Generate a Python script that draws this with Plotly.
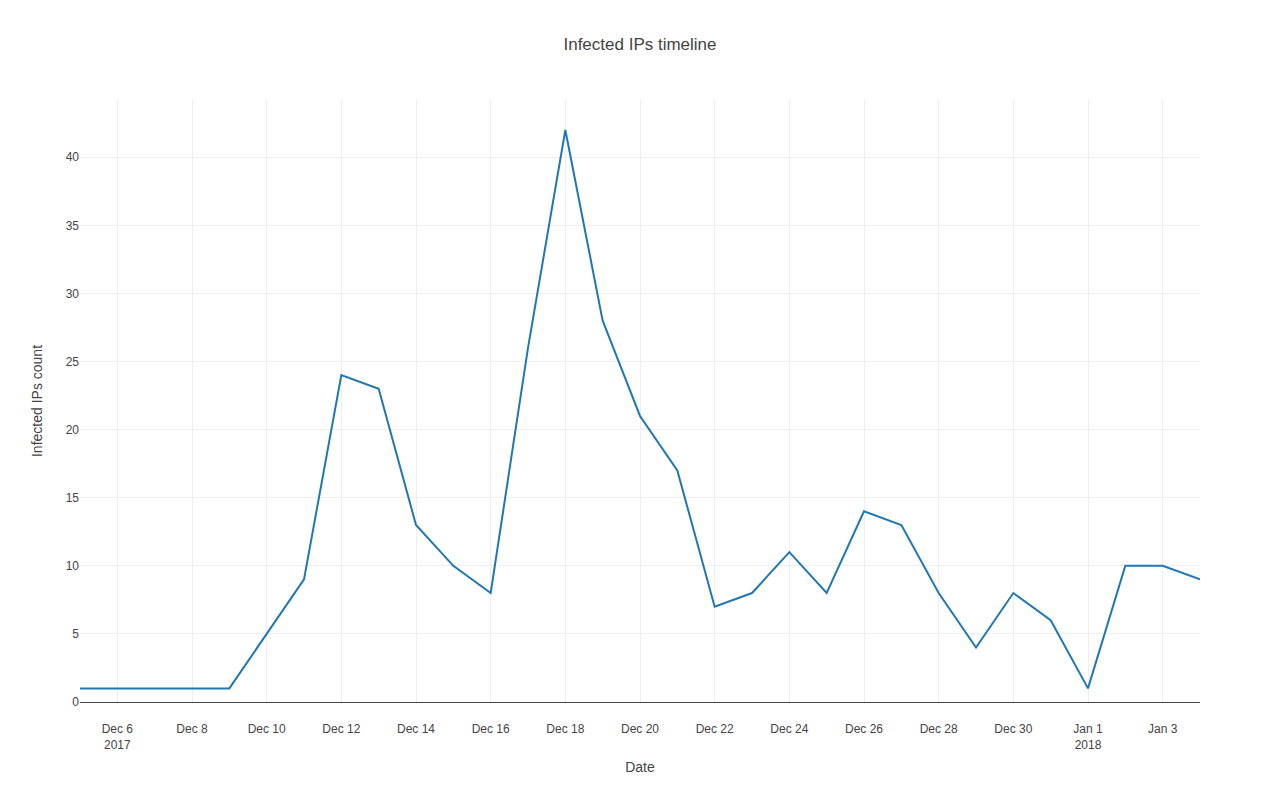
import plotly.graph_objects as go

dates = ["2017-12-05", "2017-12-06", "2017-12-07", "2017-12-08", "2017-12-09",
         "2017-12-10", "2017-12-11", "2017-12-12", "2017-12-13", "2017-12-14",
         "2017-12-15", "2017-12-16", "2017-12-17", "2017-12-18", "2017-12-19",
         "2017-12-20", "2017-12-21", "2017-12-22", "2017-12-23", "2017-12-24",
         "2017-12-25", "2017-12-26", "2017-12-27", "2017-12-28", "2017-12-29",
         "2017-12-30", "2017-12-31", "2018-01-01", "2018-01-02", "2018-01-03",
         "2018-01-04"]
counts = [1, 1, 1, 1, 1, 5, 9, 24, 23, 13, 10, 8, 26, 42, 28, 21, 17, 7, 8, 11,
          8, 14, 13, 8, 4, 8, 6, 1, 10, 10, 9]

fig = go.Figure(go.Scatter(x=dates, y=counts, mode="lines",
                           line=dict(color="#1f77b4", width=2)))

fig.update_layout(
    template="none",
    width=1264, height=784,
    margin=dict(l=72, r=72, t=92, b=90),
    font=dict(family="Arial, Liberation Sans, sans-serif", size=12, color="#444"),
    title=dict(text="Infected IPs timeline", x=0.5, xanchor="center",
               y=0.954, yanchor="middle", yref="container",
               font=dict(size=17)),
    xaxis=dict(title=dict(text="Date", standoff=11), gridcolor="#eee",
               range=["2017-12-05", "2018-01-04"], dtick=2 * 86400000,
               tick0="2017-12-06", ticks="outside", ticklen=16,
               tickcolor="rgba(0,0,0,0)"),
    yaxis=dict(title=dict(text="Infected IPs count"), gridcolor="#eee",
               range=[0, 44.2], zeroline=True, zerolinecolor="#444",
               zerolinewidth=1, dtick=5),
    plot_bgcolor="white", paper_bgcolor="white",
    showlegend=False,
)

fig.write_html("out.html")
